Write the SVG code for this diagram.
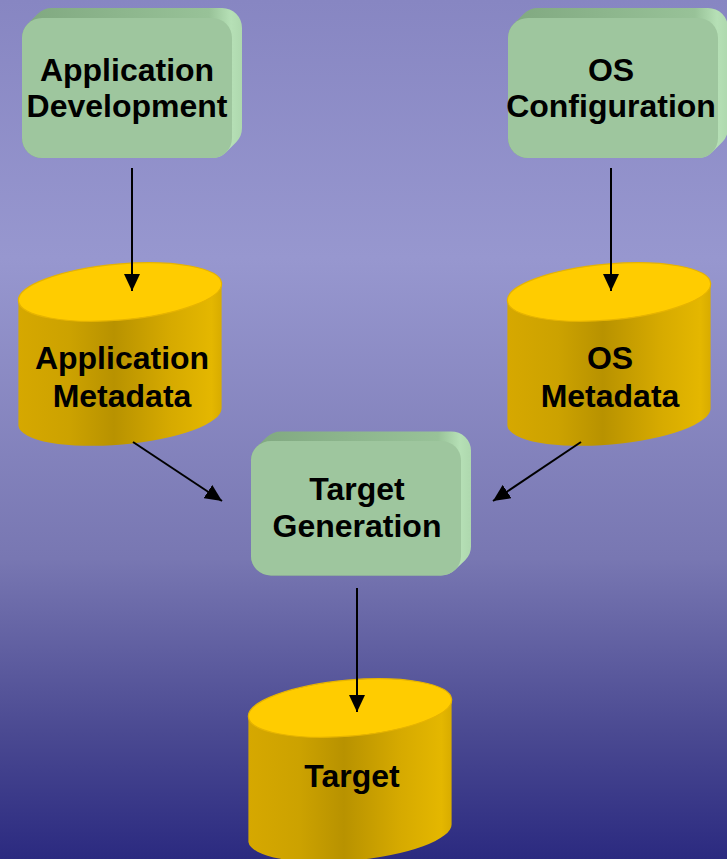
<svg xmlns="http://www.w3.org/2000/svg" xmlns:xlink="http://www.w3.org/1999/xlink" width="727" height="859" viewBox="0 0 727 859">
  <defs>
    <linearGradient id="bg" x1="0" y1="0" x2="0" y2="1">
      <stop offset="0" stop-color="#8786c2"/>
      <stop offset="0.3" stop-color="#9797cf"/>
      <stop offset="0.65" stop-color="#7877b2"/>
      <stop offset="0.85" stop-color="#4b4a92"/>
      <stop offset="1" stop-color="#2b2a80"/>
    </linearGradient>
    <linearGradient id="bevel" x1="0" y1="0" x2="1" y2="0">
      <stop offset="0" stop-color="#80a880"/>
      <stop offset="0.85" stop-color="#98c298"/>
      <stop offset="0.95" stop-color="#b6e0b6"/>
      <stop offset="1" stop-color="#aed8ae"/>
    </linearGradient>
    <linearGradient id="drum" x1="0" y1="0" x2="1" y2="0">
      <stop offset="0" stop-color="#d6a800"/>
      <stop offset="0.25" stop-color="#cca200"/>
      <stop offset="0.47" stop-color="#b89200"/>
      <stop offset="0.75" stop-color="#d6aa00"/>
      <stop offset="0.95" stop-color="#e4b700"/>
      <stop offset="1" stop-color="#d8ac00"/>
    </linearGradient>
    <!-- rounded process box with a shallow extrusion up and to the right -->
    <g id="box">
      <path fill="url(#bevel)" d="M5.86,5.86 L15.86,-4.14 A20,20 0 0 1 30,-10 L200,-10 A20,20 0 0 1 220,10 L220,110 A20,20 0 0 1 214.14,124.14 L204.14,134.14 A20,20 0 0 1 190,140 L20,140 A20,20 0 0 1 0,120 L0,20 A20,20 0 0 1 5.86,5.86 Z"/>
      <rect x="0" y="0" width="210" height="140" rx="20" fill="#9ec69e"/>
    </g>
    <!-- storage drum, local origin at the centre of the top face -->
    <g id="drumShape">
      <path fill="url(#drum)" d="M-101.6,8.9 L-101.6,133.9 A102,28 -5 0 0 101.6,116.1 L101.6,-8.9 Z"/>
      <ellipse cx="0" cy="0" rx="102" ry="28" transform="rotate(-5)" fill="#ffcc00" stroke="#e6b400" stroke-width="1.2"/>
    </g>
    <marker id="arrow" markerUnits="userSpaceOnUse" markerWidth="18" markerHeight="16" refX="17" refY="8" orient="auto">
      <path d="M0,0 L17,8 L0,16 Z" fill="#000"/>
    </marker>
  </defs>
  <style>
    .label { font-family: "Liberation Sans", Arial, sans-serif; font-weight: bold; font-size: 32px; fill: #000; text-anchor: middle; }
    .conn line { stroke: #000; stroke-width: 2; marker-end: url(#arrow); }
  </style>

  <rect x="0" y="0" width="727" height="859" fill="url(#bg)"/>

  <g id="app-dev">
    <use xlink:href="#box" transform="translate(22,18)"/>
    <text class="label" x="127" y="81">Application</text>
    <text class="label" x="127" y="117">Development</text>
  </g>

  <g id="os-config">
    <use xlink:href="#box" transform="translate(508,18)"/>
    <text class="label" x="611" y="81">OS</text>
    <text class="label" x="611" y="117">Configuration</text>
  </g>

  <g id="app-metadata">
    <use xlink:href="#drumShape" transform="translate(120,292)"/>
    <text class="label" x="122" y="369">Application</text>
    <text class="label" x="122" y="407">Metadata</text>
  </g>

  <g id="os-metadata">
    <use xlink:href="#drumShape" transform="translate(609,292)"/>
    <text class="label" x="610" y="369">OS</text>
    <text class="label" x="610" y="407">Metadata</text>
  </g>

  <g id="target-gen">
    <use xlink:href="#box" transform="translate(251,441) scale(1,0.96)"/>
    <text class="label" x="357" y="500">Target</text>
    <text class="label" x="357" y="537">Generation</text>
  </g>

  <g id="target">
    <use xlink:href="#drumShape" transform="translate(350,708)"/>
    <text class="label" x="352" y="787">Target</text>
  </g>

  <g id="connectors" class="conn">
    <line x1="132" y1="168" x2="132" y2="291"/>
    <line x1="611" y1="168" x2="611" y2="291"/>
    <line x1="133" y1="442" x2="222" y2="501"/>
    <line x1="581" y1="442" x2="493" y2="501"/>
    <line x1="357" y1="588" x2="357" y2="712"/>
  </g>
</svg>
